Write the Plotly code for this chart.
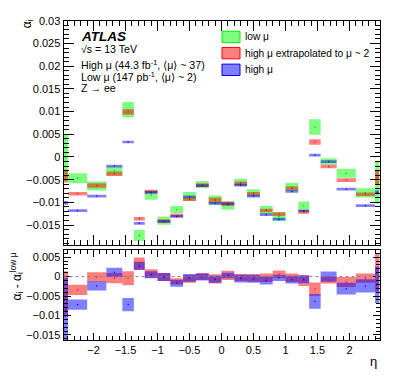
import plotly.graph_objects as go

W, H = 399, 387

# eta bin edges
edges = [-2.47, -2.4, -2.1, -1.8, -1.55, -1.37, -1.2, -1.0, -0.8, -0.6, -0.4, -0.2, 0.0,
         0.2, 0.4, 0.6, 0.8, 1.0, 1.2, 1.37, 1.55, 1.8, 2.1, 2.4, 2.47]

# upper panel: alpha_i
low_mu = [-0.0001, -0.0047, -0.0064, -0.0031, 0.0104, -0.0173, -0.0084, -0.0140, -0.0116, -0.0087,
          -0.0061, -0.0095, -0.0107, -0.0056, -0.0079, -0.0117, -0.0131, -0.0066, -0.0108, 0.0066,
          -0.0010, -0.0036, -0.0079, -0.0056]
low_mu_err = [0.0052, 0.0011, 0.0010, 0.0010, 0.0017, 0.0012, 0.0010, 0.0009, 0.0008, 0.0010,
              0.0008, 0.0010, 0.0009, 0.0008, 0.0008, 0.0009, 0.0010, 0.0009, 0.0010, 0.0017,
              0.0007, 0.0010, 0.0010, 0.0047]
high_extrap = [-0.0042, -0.0081, -0.0063, -0.0037, 0.0099, -0.0136, -0.0076, -0.0141, -0.0129, -0.0093,
               -0.0062, -0.0095, -0.0103, -0.0058, -0.0081, -0.0118, -0.0126, -0.0069, -0.0121, 0.0033,
               -0.0021, -0.0051, -0.0082, -0.0046]
high_extrap_err = [0.0014, 0.0004, 0.0005, 0.0005, 0.0006, 0.0004, 0.0004, 0.0004, 0.0004, 0.0004,
                   0.0004, 0.0006, 0.0005, 0.0004, 0.0004, 0.0004, 0.0004, 0.0004, 0.0004, 0.0006,
                   0.0004, 0.0004, 0.0004, 0.0015]
high_mu = [-0.0101, -0.0118, -0.0086, -0.0020, 0.0033, -0.0146, -0.0078, -0.0142, -0.0131, -0.0088,
           -0.0063, -0.0102, -0.0103, -0.0062, -0.0086, -0.0127, -0.0137, -0.0076, -0.0119, 0.0004,
           -0.0010, -0.0071, -0.0107, -0.0078]
high_mu_err = [0.0004, 0.0003, 0.0003, 0.0003, 0.0003, 0.0003, 0.0003, 0.0003, 0.0003, 0.0003,
               0.0003, 0.0003, 0.0003, 0.0003, 0.0003, 0.0003, 0.0003, 0.0003, 0.0003, 0.0003,
               0.0003, 0.0003, 0.0003, 0.0004]

# lower panel: alpha_i - alpha_i(low mu)
diff_extrap = [-0.0045, -0.0034, -0.0001, -0.0004, -0.0004, 0.0033, 0.0008, -0.0001, -0.0012, -0.0006,
               0.0000, -0.0006, 0.0003, -0.0002, -0.0003, -0.0003, 0.0006, -0.0003, -0.0010, -0.0032,
               -0.0009, -0.0014, -0.0004, 0.0010]
diff_extrap_err = [0.0059, 0.0013, 0.0012, 0.0013, 0.0018, 0.0016, 0.0011, 0.0010, 0.0008, 0.0010,
                   0.0009, 0.0012, 0.0012, 0.0009, 0.0010, 0.0011, 0.0010, 0.0011, 0.0014, 0.0017,
                   0.0009, 0.0013, 0.0012, 0.0048]
diff_high = [-0.0087, -0.0072, -0.0024, 0.0011, -0.0072, 0.0028, 0.0005, -0.0001, -0.0017, -0.0003,
             -0.0001, -0.0007, 0.0003, -0.0005, -0.0006, -0.0010, -0.0003, -0.0008, -0.0007, -0.0064,
             0.0000, -0.0031, -0.0024, -0.0021]
diff_high_err = [0.0084, 0.0013, 0.0012, 0.0012, 0.0017, 0.0010, 0.0009, 0.0010, 0.0009, 0.0010,
                 0.0009, 0.0009, 0.0007, 0.0010, 0.0010, 0.0010, 0.0008, 0.0010, 0.0010, 0.0019,
                 0.0013, 0.0015, 0.0017, 0.0047]

GREEN = "rgba(0,255,0,0.5)"
RED = "rgba(255,0,0,0.5)"
BLUE = "rgba(0,0,255,0.5)"

centers = [(a + b) / 2 for a, b in zip(edges[:-1], edges[1:])]
widths = [b - a for a, b in zip(edges[:-1], edges[1:])]


def px(x):
    return x / W


def py(y):
    return 1 - y / H


fig = go.Figure()


def add_boxes(vals, errs, fill, dot, xa, ya):
    fig.add_trace(go.Bar(x=centers, y=[2 * e for e in errs], base=[v - e for v, e in zip(vals, errs)],
                         width=widths, marker=dict(color=fill, line=dict(width=0)),
                         xaxis=xa, yaxis=ya, hoverinfo="skip"))
    fig.add_trace(go.Scatter(x=centers, y=vals, mode="markers", marker=dict(color=dot, size=1.5),
                             xaxis=xa, yaxis=ya, hoverinfo="skip"))


add_boxes(low_mu, low_mu_err, GREEN, "#00c000", "x", "y")
add_boxes(high_extrap, high_extrap_err, RED, "#ff0000", "x", "y")
add_boxes(high_mu, high_mu_err, BLUE, "#0000ff", "x", "y")
add_boxes(diff_extrap, diff_extrap_err, RED, "#ff0000", "x2", "y2")
add_boxes(diff_high, diff_high_err, BLUE, "#0000ff", "x2", "y2")

axis_common = dict(showline=True, linecolor="black", linewidth=1, mirror="allticks", ticks="inside",
                   tickcolor="black", showgrid=False, zeroline=False, tickfont=dict(size=11, color="black"))
xdom = [px(63.5), px(379.5)]

fig.update_layout(
    width=W, height=H,
    margin=dict(l=0, r=0, t=0, b=0),
    paper_bgcolor="white", plot_bgcolor="white",
    font=dict(family="Liberation Sans, Arial, sans-serif", color="black"),
    barmode="overlay", showlegend=False,
    xaxis=dict(domain=xdom, anchor="y", range=[-2.47, 2.47], dtick=0.5, tick0=0, ticklen=10,
               showticklabels=False, minor=dict(dtick=0.1, ticklen=5, ticks="inside", tickcolor="black"),
               **axis_common),
    yaxis=dict(domain=[py(243), py(15)], anchor="x", range=[-0.0193, 0.03001], dtick=0.005, tick0=0,
               ticklen=10, minor=dict(dtick=0.001, ticklen=5, ticks="inside", tickcolor="black"),
               **axis_common),
    xaxis2=dict(domain=xdom, anchor="y2", range=[-2.47, 2.47], dtick=0.5, tick0=0, ticklen=7,
                minor=dict(dtick=0.1, ticklen=4, ticks="inside", tickcolor="black"), **axis_common),
    yaxis2=dict(domain=[py(340.3), py(248.3)], anchor="x2", range=[-0.01635, 0.0069], dtick=0.005,
                tick0=0, ticklen=7, minor=dict(dtick=0.001, ticklen=4, ticks="inside", tickcolor="black"),
                **axis_common),
)

# dotted line at zero in the ratio panel
fig.add_shape(type="line", xref="x2 domain", x0=0, x1=1, yref="y2", y0=0, y1=0,
              line=dict(color="gray", width=1, dash="dot"))

# legend drawn by hand
legend_rows = [("low μ", GREEN, "#00ee00", 31.5),
               ("high μ extrapolated to μ ~ 2", RED, "#ff0000", 48),
               ("high μ", BLUE, "#0000ff", 65)]
for label, fill, edge, yc in legend_rows:
    fig.add_shape(type="rect", xref="paper", yref="paper", x0=px(222), x1=px(240),
                  y0=py(yc + 5.8), y1=py(yc - 5.8), fillcolor=fill, line=dict(color=edge, width=1))
    fig.add_annotation(x=px(243), y=py(yc), xref="paper", yref="paper", text=label, showarrow=False,
                       xanchor="left", yanchor="middle", font=dict(size=10.2))

texts = [("<b><i>ATLAS</i></b>", 31.5, 13.5),
         ("√s = 13 TeV", 43.5, 10.6),
         ("High μ (44.3 fb<sup>-1</sup>, ⟨μ⟩ ~ 37)", 59.5, 10.6),
         ("Low μ (147 pb<sup>-1</sup>, ⟨μ⟩ ~ 2)", 71.5, 10.6),
         ("Z → ee", 84, 10.6)]
for t, yc, size in texts:
    fig.add_annotation(x=px(79), y=py(yc), xref="paper", yref="paper", text=t, showarrow=False,
                       xanchor="left", yanchor="middle", font=dict(size=size))

# axis titles
fig.add_annotation(x=px(28), y=py(12), xref="paper", yref="paper", text="α<sub>i</sub>", textangle=-90,
                   showarrow=False, xanchor="center", yanchor="top", font=dict(size=12))
fig.add_annotation(x=px(17), y=py(249), xref="paper", yref="paper",
                   text="α<sub>i</sub> - α<sub>i</sub><sup>low μ</sup>", textangle=-90,
                   showarrow=False, xanchor="center", yanchor="top", font=dict(size=12))
fig.add_annotation(x=px(379), y=py(362), xref="paper", yref="paper", text="η", showarrow=False,
                   xanchor="right", yanchor="middle", font=dict(size=13))

# drop the default page margin so the figure sits at the window corner
fig.write_html("out.html", config={"displayModeBar": False},
               post_script="document.body.style.margin='0';")
